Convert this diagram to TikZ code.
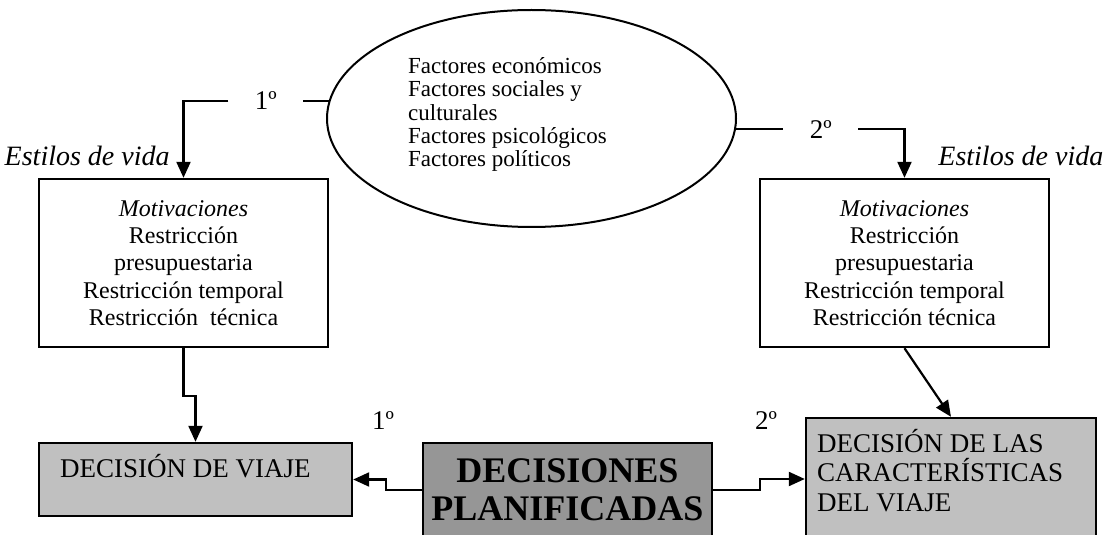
\documentclass[tikz,border=0pt]{standalone}
\usepackage{fontspec}
\setmainfont{Liberation Serif}
\usetikzlibrary{arrows.meta,shapes.geometric,positioning}

\definecolor{grayA}{HTML}{C0C0C0}
\definecolor{grayB}{HTML}{969696}

\tikzset{
  conn/.style={line width=1.1pt},
  tip/.style={-{Triangle[length=8pt,width=7pt]}},
  motivbox/.style={draw, line width=1.2pt, minimum width=144.5pt, minimum height=84pt,
    align=center, inner sep=0pt, font=\fontsize{12}{13.6}\selectfont},
  decbox/.style={draw, line width=1.2pt, fill=grayA, inner sep=0pt},
  captext/.style={inner sep=0pt, font=\fontsize{13.5}{14.8}\selectfont},
  ordgap/.style={inner xsep=13pt, inner ysep=0pt, font=\fontsize{13.5}{15}\selectfont},
  ordtext/.style={inner sep=0pt, font=\fontsize{13.5}{15}\selectfont},
  estilos/.style={inner sep=0pt, font=\fontsize{14}{16}\selectfont\itshape},
}

\begin{document}
\begin{tikzpicture}[x=0.5pt, y=-0.5pt]
    \useasboundingbox (0,0) rectangle (1116,535);

    % FACTORES
    \node[draw, ellipse, line width=1pt, minimum width=204.5pt, minimum height=108.5pt, inner sep=0pt] (fact) at (531.5,118.5) {};
    \node[align=left, inner sep=0pt, font=\fontsize{11.5}{11.6}\selectfont] (facttxt) at ([xshift=-12pt,yshift=2pt]fact.center)
        {Factores económicos\\Factores sociales y\\culturales\\Factores psicológicos\\Factores políticos};

    % MOTIVACIONES
    \node[motivbox] (motiv1) at (183.5,263)
        {\textit{Motivaciones}\\Restricción\\presupuestaria\\Restricción temporal\\Restricción~ técnica};
    \node[motivbox] (motiv2) at (904.5,263)
        {\textit{Motivaciones}\\Restricción\\presupuestaria\\Restricción temporal\\Restricción técnica};

    % ESTILOS DE VIDA
    \node[estilos, anchor=base east] (estilos1) at (170,166) {Estilos de vida};
    \node[estilos, anchor=base west] (estilos2) at (938,166) {Estilos de vida};

    % ORDEN (top)
    \node[ordgap] (ord1) at ([xshift=-31.5pt]fact.175) {1º};
    \node[ordgap] (ord2) at ([xshift=42.4pt]fact.-3) {2º};
    \draw[conn] (fact.175) -- (ord1.east);
    \draw[conn, tip] (ord1.west) -| (motiv1.north);
    \draw[conn] (fact.-3) -- (ord2.west);
    \draw[conn, tip] (ord2.east) -| (motiv2.north);

    % DECISIONES
    \node[decbox, minimum width=156.5pt, minimum height=36.5pt] (dviaje) at (195.5,479.5) {};
    \node[captext, anchor=base west] (dviajetxt) at ([xshift=11pt,yshift=-18pt]dviaje.north west) {DECISIÓN DE VIAJE};

    \node[decbox, fill=grayB, minimum width=144.5pt, minimum height=47pt, align=center,
        font=\fontsize{18}{19}\selectfont\bfseries] (dplan) at (567.5,490) {DECISIONES\\PLANIFICADAS};

    \node[decbox, minimum width=145pt, minimum height=61pt] (dcarac) at (951,479) {};
    \node[captext, anchor=north west, align=left] (dcaractxt) at ([xshift=6pt,yshift=-6pt]dcarac.north west)
        {DECISIÓN DE LAS\\CARACTERÍSTICAS\\DEL VIAJE};

    % ORDEN (bottom)
    \node[ordtext] (ord3) at (383,421) {1º};
    \node[ordtext] (ord4) at (766,421) {2º};

    % CONNECTORS
    \draw[conn, tip] (motiv1.south) -- ++(0,48) -| (dviaje.north);
    \draw[conn, tip] (dplan.west) -- ++(-36,0) |- (dviaje.east);
    \draw[conn, tip] (dplan.east) -- ++(47,0) |- (dcarac.west);
    \draw[conn, tip] (motiv2.south) -- (dcarac.north);

\end{tikzpicture}
\end{document}
